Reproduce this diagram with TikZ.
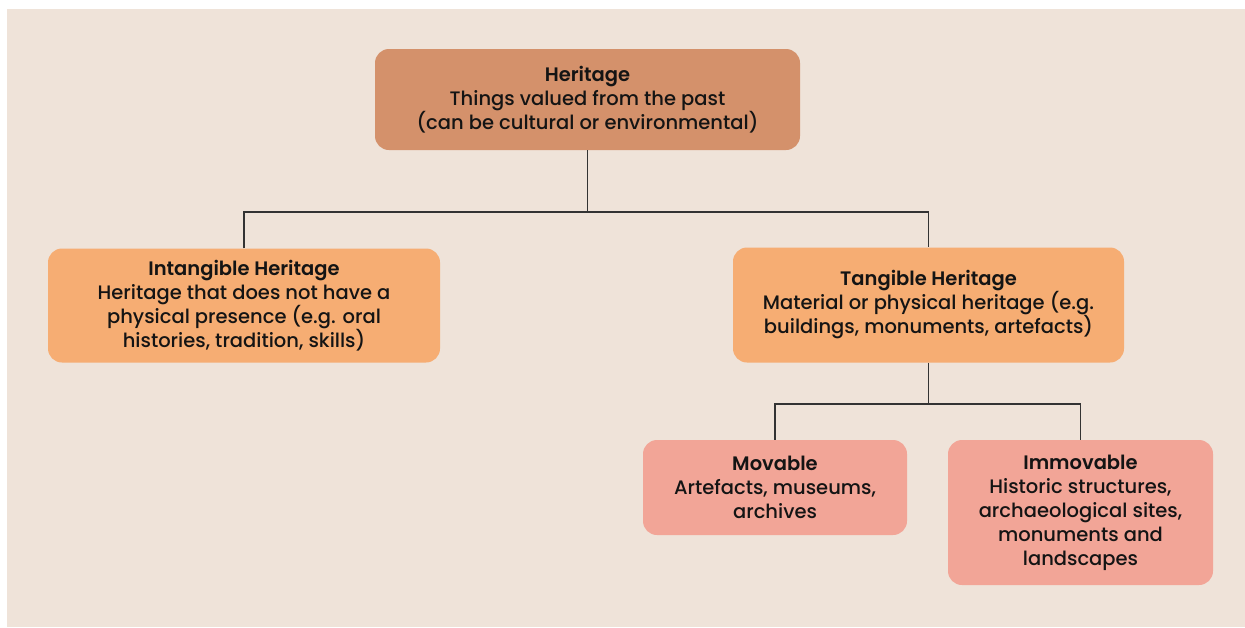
\documentclass[tikz,border=0pt]{standalone}
\usepackage{fontspec}
\setmainfont{Poppins}[UprightFont=* Medium, BoldFont=* SemiBold]
\usetikzlibrary{positioning}

\definecolor{paper}{HTML}{EFE3D9}
\definecolor{rootfill}{HTML}{D4916B}
\definecolor{midfill}{HTML}{F6AD73}
\definecolor{leaffill}{HTML}{F2A597}
\definecolor{ink}{HTML}{141414}
\definecolor{wire}{HTML}{333333}

\tikzset{
  box/.style={rounded corners=14pt, inner sep=0pt, align=center,
              text=ink, font=\fontsize{19.5}{24}\selectfont},
  rootbox/.style={box, fill=rootfill},
  midbox/.style={box, fill=midfill},
  leafbox/.style={box, fill=leaffill},
  wiring/.style={draw=wire, line width=1.6pt},
}

\begin{document}
\begin{tikzpicture}[x=1pt, y=-1pt]
  % canvas
  \useasboundingbox (0,0) rectangle (1245,627);
  \fill[paper] (7,9) rectangle (1245,627);

  % boxes
  \node[rootbox, minimum width=425pt, minimum height=101pt] (her) at (587.5,99.5)
    {\textbf{Heritage}\\Things valued from the past\\(can be cultural or environmental)};
  \node[midbox, minimum width=392pt, minimum height=114pt] (intang) at (244,305.5)
    {\textbf{Intangible Heritage}\\Heritage that does not have a\\physical presence (e.g. oral\\histories, tradition, skills)};
  \node[midbox, minimum width=391pt, minimum height=115pt] (tang) at (928.5,305)
    {\textbf{Tangible Heritage}\\Material or physical heritage (e.g.\\buildings, monuments, artefacts)};
  \node[leafbox, minimum width=264pt, minimum height=95pt] (mov) at (775,487.5)
    {\textbf{Movable}\\Artefacts, museums,\\archives};
  \node[leafbox, minimum width=265pt, minimum height=145pt] (immov) at (1080.5,512.5)
    {\textbf{Immovable}\\Historic structures,\\archaeological sites,\\monuments and\\landscapes};

  % junctions of the tree
  \coordinate (j1) at (587.5,212);
  \coordinate (j2) at (928.5,404);

  % connectors
  \draw[wiring] (her.south) -- (j1);
  \draw[wiring] (intang.north) |- (j1) -| (tang.north);
  \draw[wiring] (tang.south) -- (j2);
  \draw[wiring] (mov.north) |- (j2) -| (immov.north);
\end{tikzpicture}
\end{document}
